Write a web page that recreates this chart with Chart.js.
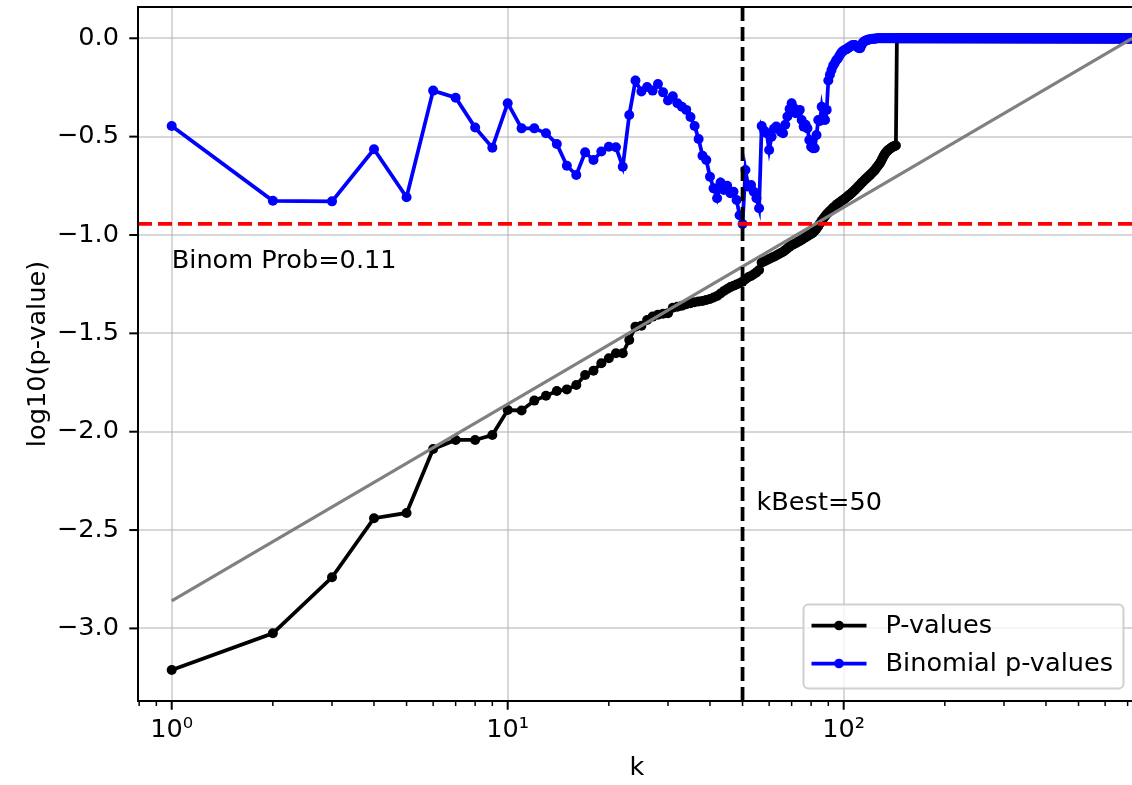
<!DOCTYPE html>
<html>
<head>
<meta charset="utf-8">
<script src="https://cdn.jsdelivr.net/npm/chart.js@4.4.1/dist/chart.umd.min.js"></script>
<style>
  html, body { margin: 0; padding: 0; background: #ffffff; overflow: hidden; }
  #wrap { width: 1132px; height: 785px; overflow: hidden; }
  canvas { display: block; }
</style>
</head>
<body>
<div id="wrap"><canvas id="chart" width="1141" height="785"></canvas></div>
<script>
// log10 of the ordered p-values, k = 1, 2, 3, ...
const pValuesLog = [
  -3.211,-3.025,-2.740,-2.440,-2.413,-2.088,-2.042,-2.042,-2.017,-1.890,
  -1.892,-1.842,-1.817,-1.793,-1.785,-1.763,-1.712,-1.690,-1.652,-1.627,
  -1.601,-1.601,-1.534,-1.466,-1.461,-1.432,-1.415,-1.405,-1.400,-1.398,
  -1.370,-1.365,-1.360,-1.352,-1.347,-1.342,-1.338,-1.335,-1.330,-1.325,
  -1.318,-1.310,-1.297,-1.285,-1.275,-1.265,-1.258,-1.252,-1.245,-1.237,
  -1.225,-1.215,-1.208,-1.200,-1.190,-1.178,-1.140,-1.135,-1.128,-1.122,
  -1.116,-1.110,-1.104,-1.098,-1.092,-1.085,-1.077,-1.068,-1.060,-1.052,
  -1.047,-1.042,-1.036,-1.030,-1.024,-1.018,-1.012,-1.006,-1.000,-0.995,
  -0.988,-0.978,-0.968,-0.955,-0.940,-0.928,-0.916,-0.905,-0.895,-0.886,
  -0.878,-0.870,-0.862,-0.855,-0.848,-0.842,-0.836,-0.830,-0.825,-0.820,
  -0.814,-0.808,-0.802,-0.796,-0.790,-0.784,-0.778,-0.771,-0.764,-0.757,
  -0.750,-0.743,-0.736,-0.729,-0.723,-0.717,-0.711,-0.705,-0.699,-0.693,
  -0.687,-0.681,-0.675,-0.668,-0.660,-0.652,-0.644,-0.636,-0.626,-0.615,
  -0.604,-0.594,-0.585,-0.578,-0.572,-0.567,-0.563,-0.559,-0.555,-0.552,
  -0.549,-0.547,-0.545,
  0,0,0,0,0,0,0,0,0,0, 0,0,0,0,0,0,0,0,0,0, 0,0,0,0,0,0,0,0,0,0, 0,0,0,0,0,0,0,0,0,0, 0,0,0,0,0,0,0,0,0,0,
  0,0,0,0,0,0,0,0,0,0, 0,0,0,0,0,0,0,0,0,0, 0,0,0,0,0,0,0,0,0,0, 0,0,0,0,0,0,0,0,0,0, 0,0,0,0,0,0,0,0,0,0,
  0,0,0,0,0,0,0,0,0,0, 0,0,0,0,0,0,0,0,0,0, 0,0,0,0,0,0,0,0,0,0, 0,0,0,0,0,0,0,0,0,0, 0,0,0,0,0,0,0,0,0,0,
  0,0,0,0,0,0,0,0,0,0, 0,0,0,0,0,0,0,0,0,0, 0,0,0,0,0,0,0,0,0,0, 0,0,0,0,0,0,0,0,0,0, 0,0,0,0,0,0,0,0,0,0,
  0,0,0,0,0,0,0,0,0,0, 0,0,0,0,0,0,0,0,0,0, 0,0,0,0,0,0,0,0,0,0, 0,0,0,0,0,0,0,0,0,0, 0,0,0,0,0,0,0,0,0,0,
  0,0,0,0,0,0,0,0,0,0, 0,0,0,0,0,0,0,0,0,0, 0,0,0,0,0,0,0,0,0,0, 0,0,0,0,0,0,0,0,0,0, 0,0,0,0,0,0,0,0,0,0,
  0,0,0,0,0,0,0,0,0,0, 0,0,0,0,0,0,0,0,0,0, 0,0,0,0,0,0,0,0,0,0, 0,0,0,0,0,0,0,0,0,0, 0,0,0,0,0,0,0,0,0,0,
  0,0,0,0,0,0,0,0,0,0, 0,0,0,0,0,0,0,0,0,0, 0,0,0,0,0,0,0,0,0,0, 0,0,0,0,0,0,0,0,0,0, 0,0,0,0,0,0,0,0,0,0,
  0,0,0,0,0,0,0,0,0,0, 0,0,0,0,0,0,0,0,0,0, 0,0,0,0,0,0,0,0,0,0, 0,0,0,0,0,0,0,0,0,0, 0,0,0,0,0,0,0,0,0,0,
  0,0,0,0,0,0,0,0,0,0, 0,0,0,0,0,0,0,0,0,0, 0,0,0,0,0,0,0,0,0,0, 0,0,0,0,0,0,0,0,0,0, 0,0,0,0,0,0,0,0,0,0,
  0,0,0,0,0,0,0,0,0,0, 0,0,0,0,0,0,0,0,0,0, 0,0,0,0,0,0,0,0,0,0, 0,0,0,0,0,0,0,0,0,0, 0,0,0,0,0,0,0,0,0,0,
  0,0,0,0,0,0,0,0,0,0, 0,0,0,0,0,0,0,0,0,0,
  0,0,0,0,0,0,0,0,0
];

// log10 of the binomial p-value for each k
const binomialLog = [
  -0.446,-0.826,-0.829,-0.564,-0.808,-0.266,-0.302,-0.454,-0.556,-0.330,
  -0.458,-0.458,-0.483,-0.537,-0.648,-0.695,-0.580,-0.619,-0.576,-0.551,
  -0.554,-0.653,-0.390,-0.215,-0.271,-0.248,-0.266,-0.232,-0.275,-0.316,
  -0.295,-0.330,-0.348,-0.364,-0.400,-0.446,-0.512,-0.597,-0.619,-0.704,
  -0.763,-0.813,-0.733,-0.771,-0.750,-0.788,-0.780,-0.822,-0.900,-0.944,
  -0.670,-0.754,-0.746,-0.780,-0.813,-0.864,-0.446,-0.470,-0.483,-0.568,
  -0.500,-0.460,-0.449,-0.460,-0.475,-0.483,-0.440,-0.398,-0.360,-0.330,
  -0.355,-0.381,-0.370,-0.364,-0.415,-0.449,-0.440,-0.458,-0.517,-0.551,
  -0.559,-0.559,-0.492,-0.415,-0.420,-0.348,-0.400,-0.415,-0.364,-0.215,
  -0.185,-0.161,-0.140,-0.127,-0.112,-0.104,-0.090,-0.078,-0.068,-0.062,
  -0.058,-0.056,-0.050,-0.045,-0.040,-0.036,-0.034,-0.034,-0.040,-0.046,
  -0.050,-0.051,-0.035,-0.022,-0.017,-0.013,-0.010,-0.008,-0.006,-0.005,
  -0.004,-0.003,-0.002,-0.002,-0.001,
  0,0,0,0,0,0,0,0,0,0, 0,0,0,0,0,0,0,0,0,0, 0,0,0,0,0,0,0,0,0,0, 0,0,0,0,0,0,0,0,0,0, 0,0,0,0,0,0,0,0,0,0,
  0,0,0,0,0,0,0,0,0,0, 0,0,0,0,0,0,0,0,0,0, 0,0,0,0,0,0,0,0,0,0, 0,0,0,0,0,0,0,0,0,0, 0,0,0,0,0,0,0,0,0,0,
  0,0,0,0,0,0,0,0,0,0, 0,0,0,0,0,0,0,0,0,0, 0,0,0,0,0,0,0,0,0,0, 0,0,0,0,0,0,0,0,0,0, 0,0,0,0,0,0,0,0,0,0,
  0,0,0,0,0,0,0,0,0,0, 0,0,0,0,0,0,0,0,0,0, 0,0,0,0,0,0,0,0,0,0, 0,0,0,0,0,0,0,0,0,0, 0,0,0,0,0,0,0,0,0,0,
  0,0,0,0,0,0,0,0,0,0, 0,0,0,0,0,0,0,0,0,0, 0,0,0,0,0,0,0,0,0,0, 0,0,0,0,0,0,0,0,0,0, 0,0,0,0,0,0,0,0,0,0,
  0,0,0,0,0,0,0,0,0,0, 0,0,0,0,0,0,0,0,0,0, 0,0,0,0,0,0,0,0,0,0, 0,0,0,0,0,0,0,0,0,0, 0,0,0,0,0,0,0,0,0,0,
  0,0,0,0,0,0,0,0,0,0, 0,0,0,0,0,0,0,0,0,0, 0,0,0,0,0,0,0,0,0,0, 0,0,0,0,0,0,0,0,0,0, 0,0,0,0,0,0,0,0,0,0,
  0,0,0,0,0,0,0,0,0,0, 0,0,0,0,0,0,0,0,0,0, 0,0,0,0,0,0,0,0,0,0, 0,0,0,0,0,0,0,0,0,0, 0,0,0,0,0,0,0,0,0,0,
  0,0,0,0,0,0,0,0,0,0, 0,0,0,0,0,0,0,0,0,0, 0,0,0,0,0,0,0,0,0,0, 0,0,0,0,0,0,0,0,0,0, 0,0,0,0,0,0,0,0,0,0,
  0,0,0,0,0,0,0,0,0,0, 0,0,0,0,0,0,0,0,0,0, 0,0,0,0,0,0,0,0,0,0, 0,0,0,0,0,0,0,0,0,0, 0,0,0,0,0,0,0,0,0,0,
  0,0,0,0,0,0,0,0,0,0, 0,0,0,0,0,0,0,0,0,0, 0,0,0,0,0,0,0,0,0,0, 0,0,0,0,0,0,0,0,0,0, 0,0,0,0,0,0,0,0,0,0,
  0,0,0,0,0,0,0,0,0,0, 0,0,0,0,0,0,0,0,0,0, 0,0,0,0,0,0,0,0,0,0, 0,0,0,0,0,0,0,0,0,0,
  0,0,0,0,0,0,0
];

// uniform reference line log10(k / n)
const referenceK = [1, 722];
const referenceLog = [-2.86, 0.0];

const kBest = 50;
const binomProb = 0.1138;

const yTickValues = [-3.0, -2.5, -2.0, -1.5, -1.0, -0.5, 0.0];
const xMajorTicks = [1, 10, 100];
const xMajorLabels = ['10\u2070', '10\u00B9', '10\u00B2'];

const xMin = 0.7937, xMax = 741.3;
const yMin = -3.369, yMax = 0.159;

const FONT = "'DejaVu Sans', 'Liberation Sans', sans-serif";
const FS = 25.6;
Chart.defaults.font.family = FONT;
Chart.defaults.font.size = FS;
Chart.defaults.color = '#000000';

const toPoints = (vals) => vals.map((v, i) => ({ x: i + 1, y: v }));
const binomLevel = Math.log10(binomProb);

// every log tick position (major + minor) inside the axis range
const xAllTicks = [];
[0.1, 1, 10, 100].forEach(dec => {
  for (let m = 1; m <= 9; m++) {
    const v = +(m * dec).toPrecision(3);
    if (v >= xMin && v <= xMax) xAllTicks.push(v);
  }
});
const isMajorX = (v) => xMajorTicks.some(t => Math.abs(t - v) < 1e-9);

const gridColor = 'rgba(176,176,176,0.5)';

// spines, tick marks, text notes and legend box
const decor = {
  id: 'decor',
  afterDraw(chart) {
    const { ctx, chartArea: a, scales: { x, y } } = chart;
    ctx.save();
    ctx.strokeStyle = '#000';
    ctx.lineWidth = 2;
    ctx.beginPath();
    ctx.moveTo(a.right, a.top); ctx.lineTo(a.left, a.top);
    ctx.lineTo(a.left, a.bottom); ctx.lineTo(a.right, a.bottom);
    ctx.lineTo(a.right, a.top);
    ctx.stroke();

    x.ticks.forEach(t => {
      const px = x.getPixelForValue(t.value);
      const major = isMajorX(t.value);
      ctx.lineWidth = major ? 2 : 1.5;
      ctx.beginPath();
      ctx.moveTo(px, a.bottom);
      ctx.lineTo(px, a.bottom + (major ? 8.75 : 5));
      ctx.stroke();
    });
    ctx.lineWidth = 2;
    y.ticks.forEach(t => {
      const py = y.getPixelForValue(t.value);
      ctx.beginPath();
      ctx.moveTo(a.left - 8.75, py);
      ctx.lineTo(a.left, py);
      ctx.stroke();
    });

    // text notes
    ctx.fillStyle = '#000';
    ctx.font = `${FS}px ${FONT}`;
    ctx.textAlign = 'left';
    ctx.textBaseline = 'alphabetic';
    ctx.fillText('Binom Prob=' + binomProb.toFixed(2), x.getPixelForValue(1), y.getPixelForValue(-1.17));
    ctx.fillText('kBest=' + kBest, x.getPixelForValue(kBest * 1.1), y.getPixelForValue(-2.4));

    // legend
    const items = chart.data.datasets.filter(d => d.showInLegend);
    const bw = 320, bh = 84;
    const bx = a.right - 12.5 - bw, by = a.bottom - 12.5 - bh;
    ctx.beginPath();
    ctx.roundRect(bx, by, bw, bh, 5);
    ctx.fillStyle = 'rgba(255,255,255,0.8)';
    ctx.fill();
    ctx.strokeStyle = '#d0d0d0';
    ctx.lineWidth = 2;
    ctx.stroke();
    items.forEach((d, i) => {
      const ly = by + 21 + i * 38;
      ctx.strokeStyle = d.borderColor;
      ctx.lineWidth = d.borderWidth;
      ctx.beginPath();
      ctx.moveTo(bx + 8, ly); ctx.lineTo(bx + 63, ly);
      ctx.stroke();
      ctx.fillStyle = d.borderColor;
      ctx.beginPath();
      ctx.arc(bx + 35.5, ly, 4.8, 0, Math.PI * 2);
      ctx.fill();
      ctx.fillStyle = '#000';
      ctx.textBaseline = 'middle';
      ctx.fillText(d.label, bx + 82, ly + 1);
    });
    ctx.restore();
  }
};

new Chart(document.getElementById('chart'), {
  type: 'line',
  data: {
    datasets: [
      {
        label: 'P-values', showInLegend: true,
        data: toPoints(pValuesLog),
        borderColor: '#000000', backgroundColor: '#000000',
        borderWidth: 3.75, pointRadius: 5, pointBorderWidth: 0, pointHoverRadius: 0,
        order: 5
      },
      {
        label: 'Binomial p-values', showInLegend: true,
        data: toPoints(binomialLog),
        borderColor: '#0000ff', backgroundColor: '#0000ff',
        borderWidth: 3.75, pointRadius: 5, pointBorderWidth: 0, pointHoverRadius: 0,
        order: 4
      },
      {
        label: 'reference',
        data: referenceK.map((k, i) => ({ x: k, y: referenceLog[i] })),
        borderColor: '#808080', borderWidth: 3.2, pointRadius: 0,
        order: 3
      },
      {
        label: 'binomial level',
        data: [{ x: xMin, y: binomLevel }, { x: xMax, y: binomLevel }],
        borderColor: '#ff0000', borderWidth: 3.75, borderDash: [14, 6], pointRadius: 0,
        order: 2
      },
      {
        label: 'kBest',
        data: [{ x: kBest, y: yMin }, { x: kBest, y: yMax }],
        borderColor: '#000000', borderWidth: 3.75, borderDash: [14, 6], pointRadius: 0,
        order: 1
      }
    ]
  },
  options: {
    responsive: false,
    devicePixelRatio: 1,
    animation: false,
    events: [],
    layout: { padding: { top: 7, left: 0, right: 0, bottom: 0 } },
    plugins: { legend: { display: false }, tooltip: { enabled: false } },
    elements: { line: { tension: 0 } },
    scales: {
      x: {
        type: 'logarithmic',
        min: xMin, max: xMax,
        afterBuildTicks: (s) => { s.ticks = xAllTicks.map(v => ({ value: v, major: isMajorX(v) })); },
        afterFit: (s) => { s.height = 84; s.paddingLeft = 0; s.paddingRight = 0; },
        ticks: {
          autoSkip: false, maxRotation: 0, minRotation: 0, padding: 14,
          font: { size: FS },
          callback: (v) => {
            const i = xMajorTicks.findIndex(t => Math.abs(t - v) < 1e-9);
            return i >= 0 ? xMajorLabels[i] : '';
          }
        },
        grid: {
          drawTicks: false, lineWidth: 2,
          color: (ctx) => (ctx.tick && isMajorX(ctx.tick.value)) ? gridColor : 'rgba(0,0,0,0)'
        },
        border: { display: false },
        title: { display: true, text: 'k', font: { size: FS }, padding: { top: 0, bottom: 1 } }
      },
      y: {
        type: 'linear',
        min: yMin, max: yMax,
        afterBuildTicks: (s) => { s.ticks = yTickValues.map(v => ({ value: v })); },
        afterFit: (s) => { s.width = 138; s.paddingTop = 0; s.paddingBottom = 0; },
        ticks: {
          padding: 19,
          font: { size: FS },
          callback: (v) => v.toFixed(1).replace('-', '\u2212')
        },
        grid: { drawTicks: false, lineWidth: 2, color: gridColor },
        border: { display: false },
        title: { display: true, text: 'log10(p-value)', font: { size: FS }, padding: { top: 23, bottom: 0 } }
      }
    }
  },
  plugins: [decor]
});
</script>
</body>
</html>
